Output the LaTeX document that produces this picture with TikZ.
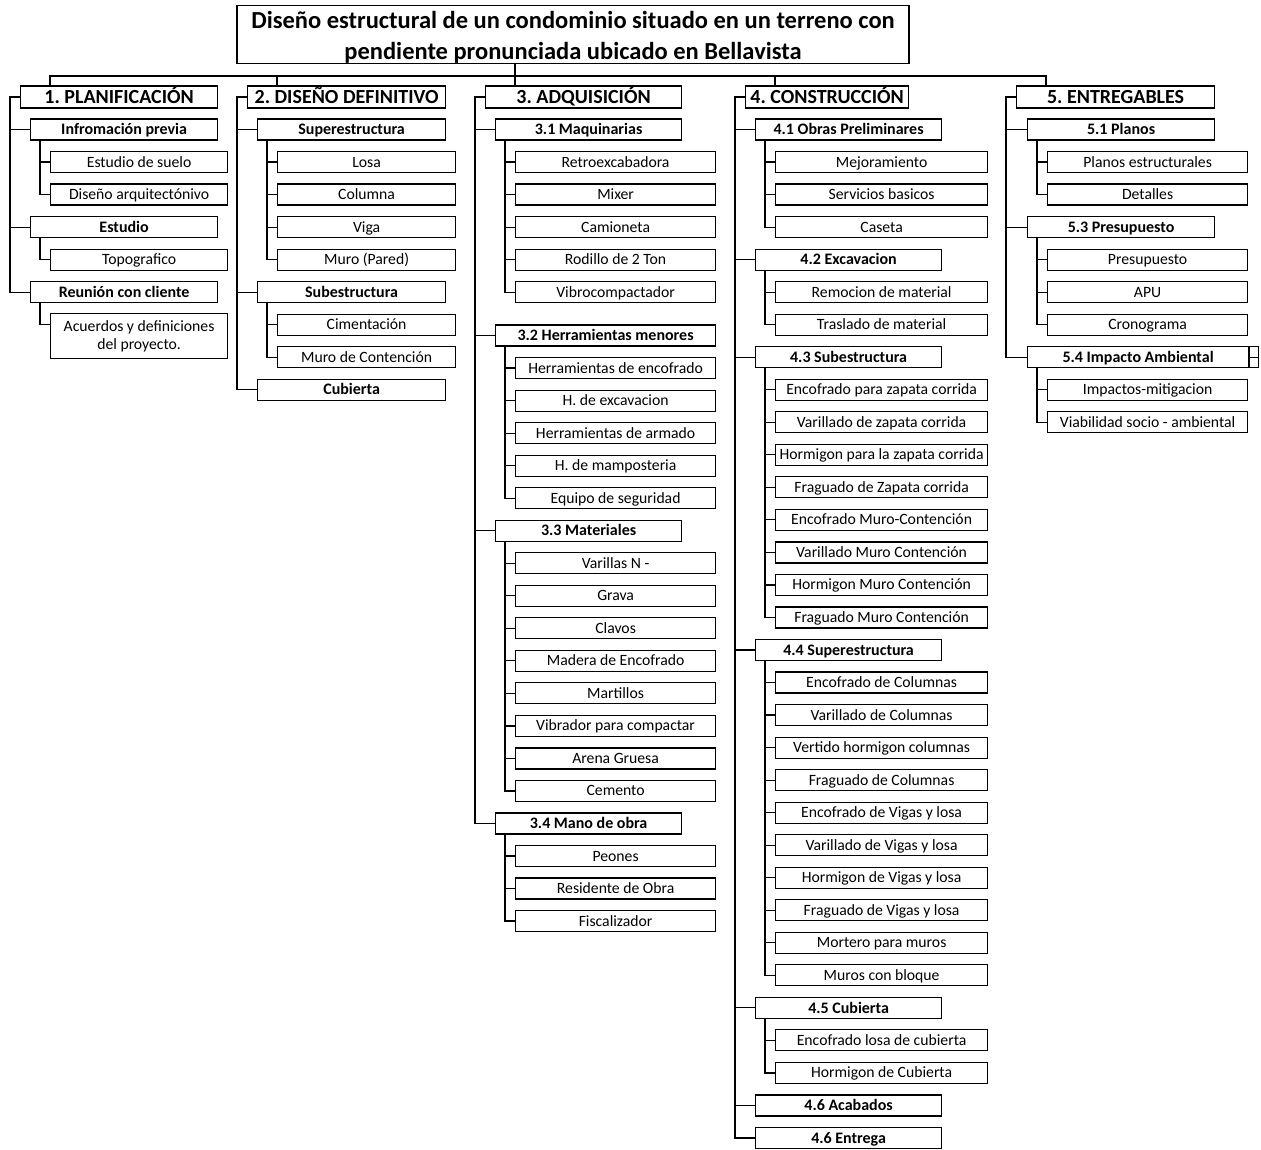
\documentclass[tikz,border=0pt]{standalone}
\usepackage{fontspec}
\setmainfont{Carlito}
\frenchspacing
\tikzset{
  base/.style={draw=black, line width=1.2pt, inner sep=0pt, anchor=west, align=center, text=black},
  lone/.style={base, minimum height=22, text height=16, text depth=3.4, font=\fontsize{20}{22}\selectfont\bfseries},
  ltwo/.style={base, minimum height=21, text height=14.3, text depth=4, font=\fontsize{16}{18}\selectfont\bfseries},
  lthree/.style={base, minimum height=21, text height=14, text depth=4, font=\fontsize{15.7}{18}\selectfont},
  conn/.style={draw=black, line width=1.2pt},
}
\newcommand{\mynode}[5]{\node[#1] (#2) at (#3,{97+32.53*(#4)}) {#5};}
\newcommand{\linkA}[2]{\draw[conn] (#1.west) -- ++(-10,0) |- (#2.west);}
\newcommand{\linkB}[2]{\draw[conn] ([xshift=10pt]#1.south west) |- (#2.west);}
\begin{document}
\begin{tikzpicture}[x=1pt,y=-1pt]
\useasboundingbox (0,0) rectangle (1261,1149);
\fill[white] (0,0) rectangle (1261,1149);

% title
\node[draw=black, line width=1.2pt, inner sep=0pt, minimum width=672, minimum height=58] (title) at (573,34.5) {};
\node[inner sep=0pt, align=center, font=\fontsize{24.5}{30.5}\selectfont\bfseries] (titletext) at (573,37.5)
  {Diseño estructural de un condominio situado en un terreno con\\pendiente pronunciada ubicado en Bellavista};

% ---------------- column 1
\mynode{lone, minimum width=197}{c1}{20}{0}{1. PLANIFICACIÓN}
\mynode{ltwo, minimum width=187}{c1a}{30}{1}{Infromación previa}
\mynode{lthree, minimum width=177}{c1a1}{50}{2}{Estudio de suelo}
\mynode{lthree, minimum width=177}{c1a2}{50}{3}{Diseño arquitectónivo}
\mynode{ltwo, minimum width=187}{c1b}{30}{4}{Estudio}
\mynode{lthree, minimum width=177}{c1b1}{50}{5}{Topografico}
\mynode{ltwo, minimum width=187}{c1c}{30}{6}{Reunión con cliente}
\node[base, anchor=north west, minimum width=177, minimum height=45, font=\fontsize{15.7}{18.5}\selectfont] (c1c1) at (50,313) {Acuerdos y definiciones\\del proyecto.};

% ---------------- column 2
\mynode{lone, minimum width=198}{c2}{247}{0}{2. DISEÑO DEFINITIVO}
\mynode{ltwo, minimum width=188}{c2a}{257}{1}{Superestructura}
\mynode{lthree, minimum width=178}{c2a1}{277}{2}{Losa}
\mynode{lthree, minimum width=178}{c2a2}{277}{3}{Columna}
\mynode{lthree, minimum width=178}{c2a3}{277}{4}{Viga}
\mynode{lthree, minimum width=178}{c2a4}{277}{5}{Muro (Pared)}
\mynode{ltwo, minimum width=188}{c2b}{257}{6}{Subestructura}
\mynode{lthree, minimum width=178}{c2b1}{277}{7}{Cimentación}
\mynode{lthree, minimum width=178}{c2b2}{277}{8}{Muro de Contención}
\mynode{ltwo, minimum width=188}{c2c}{257}{9}{Cubierta}

% ---------------- column 3
\mynode{lone, minimum width=196}{c3}{485}{0}{3. ADQUISICIÓN}
\mynode{ltwo, minimum width=186}{c3a}{495}{1}{3.1 Maquinarias}
\mynode{lthree, minimum width=200}{c3a1}{515}{2}{Retroexcabadora}
\mynode{lthree, minimum width=200}{c3a2}{515}{3}{Mixer}
\mynode{lthree, minimum width=200}{c3a3}{515}{4}{Camioneta}
\mynode{lthree, minimum width=200}{c3a4}{515}{5}{Rodillo de 2 Ton}
\mynode{lthree, minimum width=200}{c3a5}{515}{6}{Vibrocompactador}
\mynode{ltwo, minimum width=220}{c3b}{495}{7.333}{3.2 Herramientas menores}
\mynode{lthree, minimum width=200}{c3b1}{515}{8.333}{Herramientas de encofrado}
\mynode{lthree, minimum width=200}{c3b2}{515}{9.333}{H. de excavacion}
\mynode{lthree, minimum width=200}{c3b3}{515}{10.333}{Herramientas de armado}
\mynode{lthree, minimum width=200}{c3b4}{515}{11.333}{H. de mamposteria}
\mynode{lthree, minimum width=200}{c3b5}{515}{12.333}{Equipo de seguridad}
\mynode{ltwo, minimum width=186}{c3c}{495}{13.333}{3.3 Materiales}
\mynode{lthree, minimum width=200}{c3c1}{515}{14.333}{Varillas N -}
\mynode{lthree, minimum width=200}{c3c2}{515}{15.333}{Grava}
\mynode{lthree, minimum width=200}{c3c3}{515}{16.333}{Clavos}
\mynode{lthree, minimum width=200}{c3c4}{515}{17.333}{Madera de Encofrado}
\mynode{lthree, minimum width=200}{c3c5}{515}{18.333}{Martillos}
\mynode{lthree, minimum width=200}{c3c6}{515}{19.333}{Vibrador para compactar}
\mynode{lthree, minimum width=200}{c3c7}{515}{20.333}{Arena Gruesa}
\mynode{lthree, minimum width=200}{c3c8}{515}{21.333}{Cemento}
\mynode{ltwo, minimum width=186}{c3d}{495}{22.333}{3.4 Mano de obra}
\mynode{lthree, minimum width=200}{c3d1}{515}{23.333}{Peones}
\mynode{lthree, minimum width=200}{c3d2}{515}{24.333}{Residente de Obra}
\mynode{lthree, minimum width=200}{c3d3}{515}{25.333}{Fiscalizador}

% ---------------- column 4
\mynode{lone, minimum width=163}{c4}{745}{0}{4. CONSTRUCCIÓN}
\mynode{ltwo, minimum width=186}{c4a}{755}{1}{4.1 Obras Preliminares}
\mynode{lthree, minimum width=212}{c4a1}{775}{2}{Mejoramiento}
\mynode{lthree, minimum width=212}{c4a2}{775}{3}{Servicios basicos}
\mynode{lthree, minimum width=212}{c4a3}{775}{4}{Caseta}
\mynode{ltwo, minimum width=186}{c4b}{755}{5}{4.2 Excavacion}
\mynode{lthree, minimum width=212}{c4b1}{775}{6}{Remocion de material}
\mynode{lthree, minimum width=212}{c4b2}{775}{7}{Traslado de material}
\mynode{ltwo, minimum width=186}{c4c}{755}{8}{4.3 Subestructura}
\mynode{lthree, minimum width=212}{c4c1}{775}{9}{Encofrado para zapata corrida}
\mynode{lthree, minimum width=212}{c4c2}{775}{10}{Varillado de zapata corrida}
\mynode{lthree, minimum width=212}{c4c3}{775}{11}{Hormigon para la zapata corrida}
\mynode{lthree, minimum width=212}{c4c4}{775}{12}{Fraguado de Zapata corrida}
\mynode{lthree, minimum width=212}{c4c5}{775}{13}{Encofrado Muro-Contención}
\mynode{lthree, minimum width=212}{c4c6}{775}{14}{Varillado Muro Contención}
\mynode{lthree, minimum width=212}{c4c7}{775}{15}{Hormigon Muro Contención}
\mynode{lthree, minimum width=212}{c4c8}{775}{16}{Fraguado Muro Contención}
\mynode{ltwo, minimum width=186}{c4d}{755}{17}{4.4 Superestructura}
\mynode{lthree, minimum width=212}{c4d1}{775}{18}{Encofrado de Columnas}
\mynode{lthree, minimum width=212}{c4d2}{775}{19}{Varillado de Columnas}
\mynode{lthree, minimum width=212}{c4d3}{775}{20}{Vertido hormigon columnas}
\mynode{lthree, minimum width=212}{c4d4}{775}{21}{Fraguado de Columnas}
\mynode{lthree, minimum width=212}{c4d5}{775}{22}{Encofrado de Vigas y losa}
\mynode{lthree, minimum width=212}{c4d6}{775}{23}{Varillado de Vigas y losa}
\mynode{lthree, minimum width=212}{c4d7}{775}{24}{Hormigon de Vigas y losa}
\mynode{lthree, minimum width=212}{c4d8}{775}{25}{Fraguado de Vigas y losa}
\mynode{lthree, minimum width=212}{c4d9}{775}{26}{Mortero para muros}
\mynode{lthree, minimum width=212}{c4d10}{775}{27}{Muros con bloque}
\mynode{ltwo, minimum width=186}{c4e}{755}{28}{4.5 Cubierta}
\mynode{lthree, minimum width=212}{c4e1}{775}{29}{Encofrado losa de cubierta}
\mynode{lthree, minimum width=212}{c4e2}{775}{30}{Hormigon de Cubierta}
\mynode{ltwo, minimum width=186}{c4f}{755}{31}{4.6 Acabados}
\mynode{ltwo, minimum width=186}{c4g}{755}{32}{4.6 Entrega}

% ---------------- column 5
\mynode{lone, minimum width=198}{c5}{1016}{0}{5. ENTREGABLES}
\mynode{ltwo, minimum width=187}{c5a}{1027}{1}{5.1 Planos}
\mynode{lthree, minimum width=200}{c5a1}{1047}{2}{Planos estructurales}
\mynode{lthree, minimum width=200}{c5a2}{1047}{3}{Detalles}
\mynode{ltwo, minimum width=187}{c5b}{1027}{4}{5.3 Presupuesto}
\mynode{lthree, minimum width=200}{c5b1}{1047}{5}{Presupuesto}
\mynode{lthree, minimum width=200}{c5b2}{1047}{6}{APU}
\mynode{lthree, minimum width=200}{c5b3}{1047}{7}{Cronograma}
\mynode{ltwo, minimum width=221}{c5c}{1027}{8}{5.4 Impacto Ambiental}
\node[base, minimum width=9, minimum height=21] (c5cx) at (c5c.east) {};
\draw[conn] (c5cx.west) -- (c5cx.east);
\mynode{lthree, minimum width=200}{c5c1}{1047}{9}{Impactos-mitigacion}
\mynode{lthree, minimum width=200}{c5c2}{1047}{10}{Viabilidad socio - ambiental}

% ---------------- top bus
\coordinate (bus) at (515,76);
\coordinate (d1) at ([xshift=30pt]c1.north west);
\coordinate (d2) at ([xshift=30pt]c2.north west);
\coordinate (d3) at ([xshift=30pt]c3.north west);
\coordinate (d4) at ([xshift=30pt]c4.north west);
\coordinate (d5) at ([xshift=30pt]c5.north west);
\draw[conn] (d1) -- (d1 |- bus) -- (d5 |- bus) -- (d5);
\draw[conn] (title.south -| d3) -- (d3);
\draw[conn] (d2) -- (d2 |- bus);
\draw[conn] (d4) -- (d4 |- bus);

% ---------------- column 1 links
\linkA{c1}{c1a}\linkA{c1}{c1b}\linkA{c1}{c1c}
\linkB{c1a}{c1a1}\linkB{c1a}{c1a2}
\linkB{c1b}{c1b1}
\draw[conn] ([xshift=10pt]c1c.south west) |- ([yshift=-11.5pt]c1c1.north west);

% ---------------- column 2 links
\linkA{c2}{c2a}\linkA{c2}{c2b}\linkA{c2}{c2c}
\linkB{c2a}{c2a1}\linkB{c2a}{c2a2}\linkB{c2a}{c2a3}\linkB{c2a}{c2a4}
\linkB{c2b}{c2b1}\linkB{c2b}{c2b2}

% ---------------- column 3 links
\linkA{c3}{c3a}\linkA{c3}{c3b}\linkA{c3}{c3c}\linkA{c3}{c3d}
\linkB{c3a}{c3a1}\linkB{c3a}{c3a2}\linkB{c3a}{c3a3}\linkB{c3a}{c3a4}\linkB{c3a}{c3a5}
\linkB{c3b}{c3b1}\linkB{c3b}{c3b2}\linkB{c3b}{c3b3}\linkB{c3b}{c3b4}\linkB{c3b}{c3b5}
\linkB{c3c}{c3c1}\linkB{c3c}{c3c2}\linkB{c3c}{c3c3}\linkB{c3c}{c3c4}
\linkB{c3c}{c3c5}\linkB{c3c}{c3c6}\linkB{c3c}{c3c7}\linkB{c3c}{c3c8}
\linkB{c3d}{c3d1}\linkB{c3d}{c3d2}\linkB{c3d}{c3d3}

% ---------------- column 4 links
\linkA{c4}{c4a}\linkA{c4}{c4b}\linkA{c4}{c4c}\linkA{c4}{c4d}
\linkA{c4}{c4e}\linkA{c4}{c4f}\linkA{c4}{c4g}
\linkB{c4a}{c4a1}\linkB{c4a}{c4a2}\linkB{c4a}{c4a3}
\linkB{c4b}{c4b1}\linkB{c4b}{c4b2}
\linkB{c4c}{c4c1}\linkB{c4c}{c4c2}\linkB{c4c}{c4c3}\linkB{c4c}{c4c4}
\linkB{c4c}{c4c5}\linkB{c4c}{c4c6}\linkB{c4c}{c4c7}\linkB{c4c}{c4c8}
\linkB{c4d}{c4d1}\linkB{c4d}{c4d2}\linkB{c4d}{c4d3}\linkB{c4d}{c4d4}\linkB{c4d}{c4d5}
\linkB{c4d}{c4d6}\linkB{c4d}{c4d7}\linkB{c4d}{c4d8}\linkB{c4d}{c4d9}\linkB{c4d}{c4d10}
\linkB{c4e}{c4e1}\linkB{c4e}{c4e2}

% ---------------- column 5 links
\linkA{c5}{c5a}\linkA{c5}{c5b}\linkA{c5}{c5c}
\linkB{c5a}{c5a1}\linkB{c5a}{c5a2}
\linkB{c5b}{c5b1}\linkB{c5b}{c5b2}\linkB{c5b}{c5b3}
\linkB{c5c}{c5c1}\linkB{c5c}{c5c2}
\end{tikzpicture}
\end{document}
